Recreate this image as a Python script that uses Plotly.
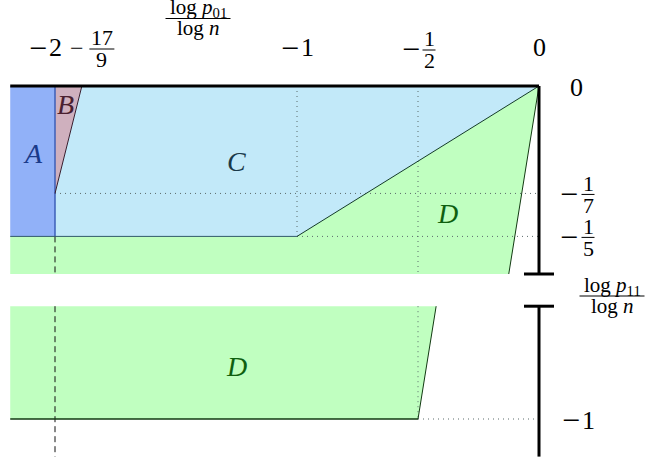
import plotly.graph_objects as go

# region geometry, axes are log p01 / log n (x) and log p11 / log n (y)
x_left = -2.185
region_a_x = [x_left, -2, -2, x_left]
region_a_y = [0, 0, -1/5, -1/5]
region_b_x = [-2, -17/9, -2]
region_b_y = [0, 0, -1/7]
region_c_x = [-2, 0, -1, -2]
region_c_y = [0, 0, -1/5, -1/5]
region_d_top_x = [x_left, -1, 0, -0.125, x_left]
region_d_top_y = [-1/5, -1/5, 0, -0.25, -0.25]
region_d_bot_x = [x_left, -0.425, -0.5, x_left]
region_d_bot_y = [-0.85, -0.85, -1, -1]

x_ticks = [-2, -17/9, -1, -1/2, 0]
y_ticks_top = [0, -1/7, -1/5]
y_ticks_bottom = [-1]
y_top_cut = -0.25
y_bot_cut = -0.85
y_axis_end = -1.05

label_font = "Liberation Serif"
W, H = 646, 463
PX_X = 242   # pixels per unit
PX_Y = 752
X0 = 539     # pixel of x = 0
Y0 = 86      # pixel of y = 0 (upper part)
Y1 = 419     # pixel of y = -1 (lower part)

fig = go.Figure()


def poly(xs, ys, fill, yaxis="y"):
    fig.add_trace(go.Scatter(
        x=xs + [xs[0]], y=ys + [ys[0]], mode="lines", fill="toself",
        fillcolor=fill, line=dict(width=0), yaxis=yaxis,
        hoverinfo="skip", showlegend=False
    ))


def edge(xs, ys, color, width=1, dash="solid", yaxis="y"):
    fig.add_trace(go.Scatter(
        x=xs, y=ys, mode="lines", line=dict(color=color, width=width, dash=dash),
        yaxis=yaxis, hoverinfo="skip", showlegend=False
    ))


# filled regions
poly(region_c_x, region_c_y, "#c2e9f9")
poly(region_d_top_x, region_d_top_y, "#c0ffc0")
poly(region_a_x, region_a_y, "#91b1f8")
poly(region_b_x, region_b_y, "#cfb0be")
poly(region_d_bot_x, region_d_bot_y, "#c0ffc0", yaxis="y2")

# dotted guides
dot = "#5a6a6a"
edge([-2, 0], [-1/7, -1/7], dot, dash="1px,4px")
edge([-1, 0], [-1/5, -1/5], dot, dash="1px,4px")
edge([-1, -1], [0, -1/5], dot, dash="1px,4px")
edge([-1/2, -1/2], [0, y_top_cut], dot, dash="1px,4px")
edge([-1/2, -1/2], [y_bot_cut, -1], dot, dash="1px,4px", yaxis="y2")
edge([-1/2, 0], [-1, -1], dot, dash="1px,4px", yaxis="y2")

# dashed line at x = -2
edge([-2, -2], [-1/5, y_top_cut], "#111111", dash="6px,4px")
edge([-2, -2], [y_bot_cut, y_axis_end], "#111111", dash="6px,4px", yaxis="y2")

# region edges
edge([-2, -2], [0, -1/5], "#3d5fb8", width=1.5)
edge([x_left, -1], [-1/5, -1/5], "#2f5a6a", width=1)
edge([-1, 0], [-1/5, 0], "#123a2a", width=1)
edge([-17/9, -2], [0, -1/7], "#3a2030", width=1)
edge([0, -0.125], [0, y_top_cut], "#123a12", width=1)
edge([-0.425, -0.5], [y_bot_cut, -1], "#123a12", width=1, yaxis="y2")
edge([x_left, -0.5], [-1, -1], "#123a12", width=1.5, yaxis="y2")

# thick axes
edge([x_left, 0], [0, 0], "black", width=3)
edge([0, 0], [0, y_top_cut], "black", width=3)
edge([-0.062, 0.062], [y_top_cut, y_top_cut], "black", width=3)
edge([-0.062, 0.062], [y_bot_cut, y_bot_cut], "black", width=3, yaxis="y2")
edge([0, 0], [y_bot_cut, y_axis_end], "black", width=3, yaxis="y2")

annotations = []
shapes = []


def txt(text, x, y, xref, yref, size=26, color="black", xshift=0, yshift=0):
    annotations.append(dict(
        text=text, x=x, y=y, xref=xref, yref=yref, xshift=xshift, yshift=yshift,
        showarrow=False, xanchor="center", yanchor="middle",
        font=dict(family=label_font, size=size, color=color)
    ))


def minus(x, y, xref, yref, xshift, yshift=0, size=32):
    txt("\u2212", x, y, xref, yref, size=size, xshift=xshift, yshift=yshift)


def frac(num, den, x, y, xref, yref, xshift, yshift, bar_w, size=22, gap=11):
    txt(num, x, y, xref, yref, size=size, xshift=xshift, yshift=yshift + gap)
    txt(den, x, y, xref, yref, size=size, xshift=xshift, yshift=yshift - gap)
    shapes.append(dict(
        type="line", xref=xref, yref=yref, xsizemode="pixel", ysizemode="pixel",
        xanchor=x, yanchor=y, x0=xshift - bar_w / 2, x1=xshift + bar_w / 2,
        y0=yshift, y1=yshift, line=dict(color="black", width=1)
    ))


def px(p):
    return p / W


def py(p):
    return 1 - p / H


top_y = py(48)
# top tick labels
minus(x_ticks[0], top_y, "x", "paper", xshift=-17)
txt("2", x_ticks[0], top_y, "x", "paper", xshift=0)
minus(x_ticks[1], top_y, "x", "paper", xshift=-5, size=24)
frac("17", "9", x_ticks[1], top_y, "x", "paper", xshift=20, yshift=-1, bar_w=25)
minus(x_ticks[2], top_y, "x", "paper", xshift=-7)
txt("1", x_ticks[2], top_y, "x", "paper", xshift=10)
minus(x_ticks[3], top_y, "x", "paper", xshift=-7, yshift=-1)
frac("1", "2", x_ticks[3], top_y, "x", "paper", xshift=11, yshift=-2, bar_w=13)
txt("0", x_ticks[4], top_y, "x", "paper")

# right tick labels
txt("0", px(576), y_ticks_top[0], "paper", "y", yshift=-1)
for v, d in zip(y_ticks_top[1:], ["7", "5"]):
    minus(px(569), v, "paper", "y", xshift=0, yshift=-1)
    frac("1", d, px(588), v, "paper", "y", xshift=0, yshift=-1, bar_w=13)
minus(px(571), y_ticks_bottom[0], "paper", "y2", xshift=0, yshift=-1)
txt("1", px(588), y_ticks_bottom[0], "paper", "y2", yshift=-1)

# axis titles
frac("log <i>p</i><sub>01</sub>", "log <i>n</i>", px(198), py(18.5),
     "paper", "paper", xshift=0, yshift=0, bar_w=65, size=21, gap=10)
frac("log <i>p</i><sub>11</sub>", "log <i>n</i>", px(612), py(296),
     "paper", "paper", xshift=0, yshift=0, bar_w=65, size=21, gap=10)

# region names
txt("<i>A</i>", -2.09, -0.09, "x", "y", size=28, color="#1a3a8a")
txt("<i>B</i>", -1.955, -0.024, "x", "y", size=28, color="#4a2030")
txt("<i>C</i>", -1.25, -0.1, "x", "y", size=28, color="#1a3a4a")
txt("<i>D</i>", -0.38, -0.17, "x", "y", size=28, color="#0f5f0f")
txt("<i>D</i>", -1.25, -0.93, "x", "y2", size=28, color="#0f5f0f")

fig.update_layout(
    width=W, height=H,
    margin=dict(l=0, r=0, t=0, b=0),
    paper_bgcolor="white", plot_bgcolor="white",
    showlegend=False, hovermode=False,
    xaxis=dict(range=[-X0 / PX_X, (W - X0) / PX_X], visible=False, fixedrange=True),
    yaxis=dict(range=[-(H - Y0) / PX_Y, Y0 / PX_Y], visible=False, fixedrange=True),
    yaxis2=dict(range=[-1 - (H - Y1) / PX_Y, -1 + Y1 / PX_Y], overlaying="y",
                visible=False, fixedrange=True),
    annotations=annotations,
    shapes=shapes,
)

# drop the default page margin so the figure sits at the window corner
fig.write_html("out.html", config={"displayModeBar": False},
               post_script="document.body.style.margin = '0';")
